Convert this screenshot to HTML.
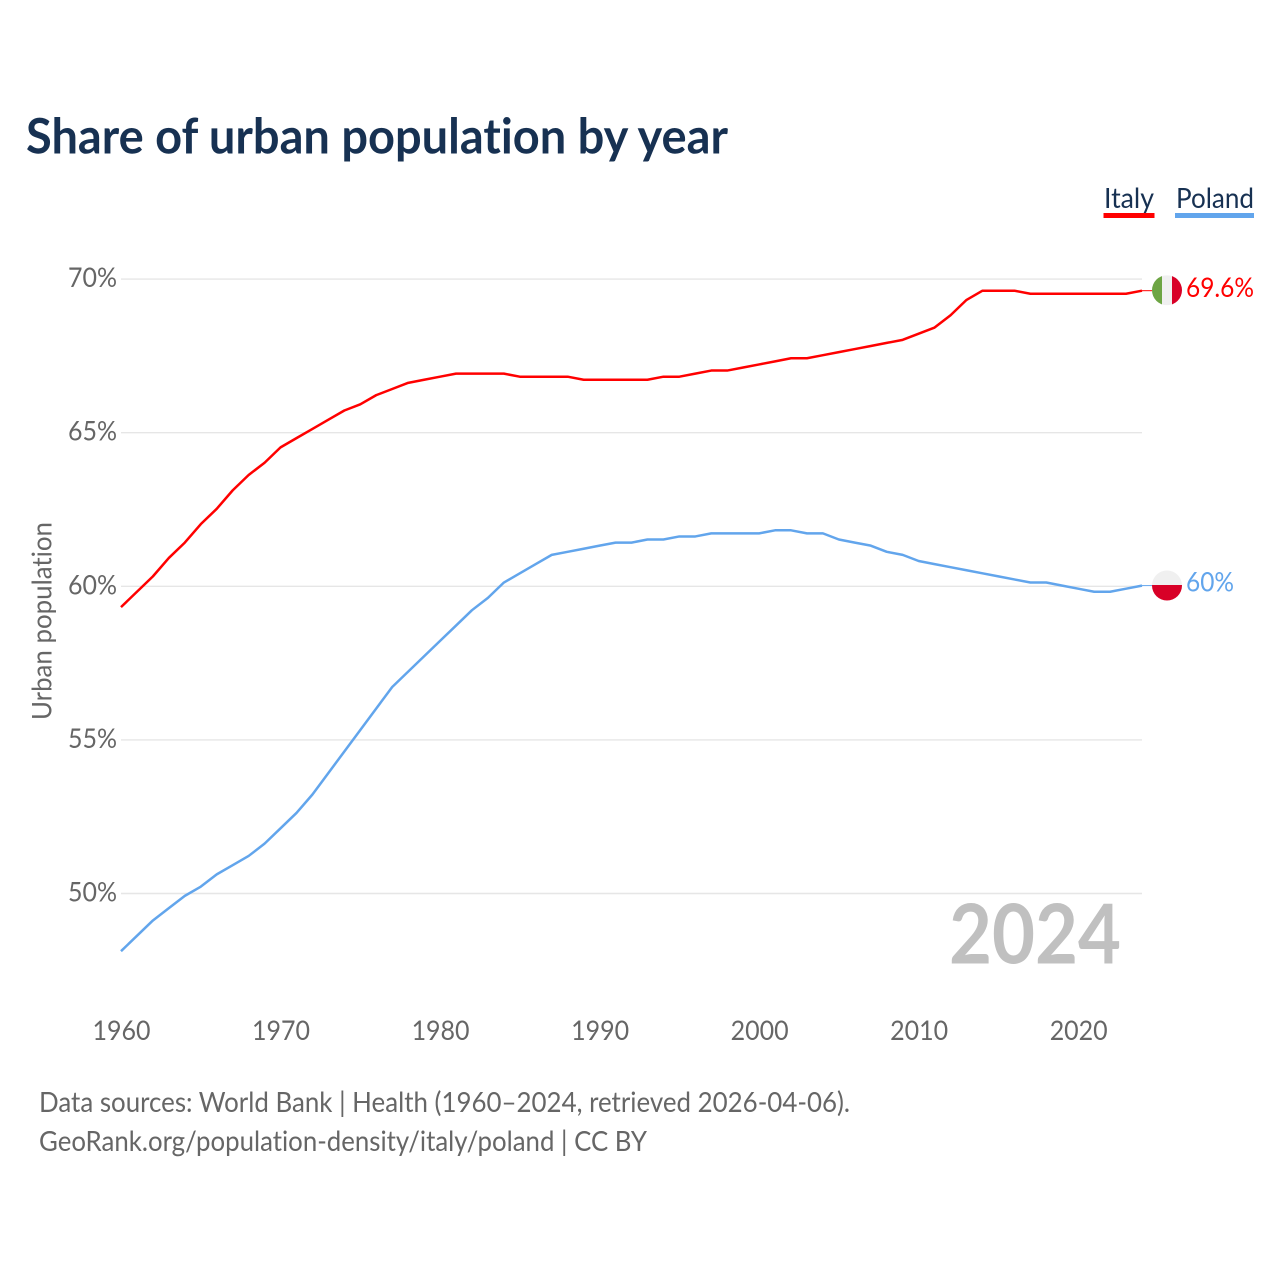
<!DOCTYPE html>
<html lang="en">
<head>
<meta charset="utf-8">
<title>Share of urban population by year</title>
<style>
html,body{margin:0;padding:0;background:#fff;width:1280px;height:1280px;overflow:hidden}
svg{display:block}
text{font-family:"Lato","Carlito","Liberation Sans",sans-serif;font-variant-ligatures:none;font-feature-settings:"liga" 0,"clig" 0}
</style>
</head>
<body>
<svg id="chart" xmlns="http://www.w3.org/2000/svg" width="1280" height="1280" viewBox="0 0 1280 1280">
  <rect x="0" y="0" width="1280" height="1280" fill="#fff"/>
  <text x="26" y="153.5" font-size="48.5" font-weight="700" fill="#173152" textLength="702" lengthAdjust="spacingAndGlyphs">Share of urban population by year</text>

  <g>
    <text x="1104" y="208" font-size="28.5" fill="#173152" textLength="50" lengthAdjust="spacingAndGlyphs">Italy</text>
    <rect x="1103.5" y="213" width="51" height="5" fill="#ff0000"/>
  </g>
  <g>
    <text x="1176" y="208" font-size="28.5" fill="#173152" textLength="78" lengthAdjust="spacingAndGlyphs">Poland</text>
    <rect x="1175" y="213" width="79" height="5" fill="#62a5ec"/>
  </g>

  <g id="grid"></g>
  <g id="yticks"></g>
  <g id="xticks"></g>

  <text transform="translate(51.5,621) rotate(-90)" text-anchor="middle" font-size="27.5" fill="#666" textLength="198" lengthAdjust="spacingAndGlyphs">Urban population</text>

  <text x="949" y="963.5" font-size="82" font-weight="700" fill="#c0c0c0" textLength="172" lengthAdjust="spacingAndGlyphs">2024</text>

  <g id="series"></g>

  <defs>
    <clipPath id="clip-it"><circle id="clip-it-c" r="15" cx="1167" cy="290"/></clipPath>
    <clipPath id="clip-pl"><circle id="clip-pl-c" r="15" cx="1167" cy="585"/></clipPath>
  </defs>
  <g id="flags"></g>

  <text x="39" y="1112" font-size="27.8" fill="#666" textLength="811" lengthAdjust="spacingAndGlyphs">Data sources: World Bank | Health (1960–2024, retrieved 2026-04-06).</text>
  <text x="39" y="1151" font-size="27.8" fill="#666" textLength="608" lengthAdjust="spacingAndGlyphs">GeoRank.org/population-density/italy/poland | CC BY</text>
</svg>
<script>
const years = [1960,1961,1962,1963,1964,1965,1966,1967,1968,1969,1970,1971,1972,1973,1974,1975,1976,1977,1978,1979,1980,1981,1982,1983,1984,1985,1986,1987,1988,1989,1990,1991,1992,1993,1994,1995,1996,1997,1998,1999,2000,2001,2002,2003,2004,2005,2006,2007,2008,2009,2010,2011,2012,2013,2014,2015,2016,2017,2018,2019,2020,2021,2022,2023,2024];
const italyValues = [59.3,59.8,60.3,60.9,61.4,62.0,62.5,63.1,63.6,64.0,64.5,64.8,65.1,65.4,65.7,65.9,66.2,66.4,66.6,66.7,66.8,66.9,66.9,66.9,66.9,66.8,66.8,66.8,66.8,66.7,66.7,66.7,66.7,66.7,66.8,66.8,66.9,67.0,67.0,67.1,67.2,67.3,67.4,67.4,67.5,67.6,67.7,67.8,67.9,68.0,68.2,68.4,68.8,69.3,69.6,69.6,69.6,69.5,69.5,69.5,69.5,69.5,69.5,69.5,69.6];
const polandValues = [48.1,48.6,49.1,49.5,49.9,50.2,50.6,50.9,51.2,51.6,52.1,52.6,53.2,53.9,54.6,55.3,56.0,56.7,57.2,57.7,58.2,58.7,59.2,59.6,60.1,60.4,60.7,61.0,61.1,61.2,61.3,61.4,61.4,61.5,61.5,61.6,61.6,61.7,61.7,61.7,61.7,61.8,61.8,61.7,61.7,61.5,61.4,61.3,61.1,61.0,60.8,60.7,60.6,60.5,60.4,60.3,60.2,60.1,60.1,60.0,59.9,59.8,59.8,59.9,60.0];
const yTicks = [70,65,60,55,50];
const xTicks = [1960,1970,1980,1990,2000,2010,2020];

const NS = 'http://www.w3.org/2000/svg';
const xScale = function (year) { return 121 + (year - 1960) * (1142 - 121) / 64; };
const yScale = function (pct) { return 279.1 + (70 - pct) * (893.5 - 279.1) / 20; };
const lineY = function (pct) { return yScale(pct) - 0.7; };

const grid = document.getElementById('grid');
const yTickGroup = document.getElementById('yticks');
const xTickGroup = document.getElementById('xticks');
const seriesGroup = document.getElementById('series');
const flags = document.getElementById('flags');

yTicks.forEach(function (t) {
  const line = document.createElementNS(NS, 'line');
  
  
  line.setAttribute('x1', xScale(1960));
  line.setAttribute('x2', xScale(2024));
  line.setAttribute('y1', yScale(t));
  line.setAttribute('y2', yScale(t));
  line.setAttribute('stroke', '#e6e6e6');
  line.setAttribute('stroke-width', '1.4');
  grid.appendChild(line);

  const label = document.createElementNS(NS, 'text');
  
  
  label.setAttribute('x', 117);
  label.setAttribute('y', yScale(t) + 8);
  label.setAttribute('text-anchor', 'end');
  label.setAttribute('font-size', '27');
  label.setAttribute('fill', '#666');
  label.setAttribute('textLength', '49');
  label.setAttribute('lengthAdjust', 'spacingAndGlyphs');
  label.textContent = t + '%';
  yTickGroup.appendChild(label);
});

xTicks.forEach(function (t) {
  const label = document.createElementNS(NS, 'text');
  
  
  label.setAttribute('x', xScale(t) + 0.5);
  label.setAttribute('y', 1040);
  label.setAttribute('text-anchor', 'middle');
  label.setAttribute('font-size', '27');
  label.setAttribute('fill', '#666');
  label.setAttribute('textLength', '58');
  label.setAttribute('lengthAdjust', 'spacingAndGlyphs');
  label.textContent = t;
  xTickGroup.appendChild(label);
});

const pathFor = function (values) {
  return values.map(function (v, i) {
    return (i ? 'L' : 'M') + xScale(years[i]).toFixed(2) + ' ' + lineY(v).toFixed(2);
  }).join('');
};

const lastIt = italyValues[italyValues.length - 1];
const lastPl = polandValues[polandValues.length - 1];

const itLine = document.createElementNS(NS, 'path');


itLine.setAttribute('d', pathFor(italyValues));
itLine.setAttribute('fill', 'none');
itLine.setAttribute('stroke', '#ff0000');
itLine.setAttribute('stroke-width', '2.5');
itLine.setAttribute('stroke-linejoin', 'round');
seriesGroup.appendChild(itLine);

const plLine = document.createElementNS(NS, 'path');


plLine.setAttribute('d', pathFor(polandValues));
plLine.setAttribute('fill', 'none');
plLine.setAttribute('stroke', '#62a5ec');
plLine.setAttribute('stroke-width', '2.5');
plLine.setAttribute('stroke-linejoin', 'round');
seriesGroup.appendChild(plLine);

const itConn = document.createElementNS(NS, 'line');


itConn.setAttribute('x1', xScale(2024));
itConn.setAttribute('x2', xScale(2024) + 10);
itConn.setAttribute('y1', lineY(lastIt));
itConn.setAttribute('y2', lineY(lastIt));
itConn.setAttribute('stroke', '#ff0000');
itConn.setAttribute('stroke-width', '1');
seriesGroup.appendChild(itConn);

const plConn = document.createElementNS(NS, 'line');


plConn.setAttribute('x1', xScale(2024));
plConn.setAttribute('x2', xScale(2024) + 10);
plConn.setAttribute('y1', lineY(lastPl));
plConn.setAttribute('y2', lineY(lastPl));
plConn.setAttribute('stroke', '#62a5ec');
plConn.setAttribute('stroke-width', '1');
seriesGroup.appendChild(plConn);

const itCy = lineY(lastIt) - 0.4;
const plCy = lineY(lastPl) - 0.1;
document.getElementById('clip-it-c').setAttribute('cy', itCy);
document.getElementById('clip-pl-c').setAttribute('cy', plCy);

const itFlag = document.createElementNS(NS, 'g');


itFlag.setAttribute('clip-path', 'url(#clip-it)');
[['#6da544', 1152], ['#f0f0f0', 1162], ['#d80027', 1172]].forEach(function (band) {
  const r = document.createElementNS(NS, 'rect');
  
  
  r.setAttribute('x', band[1]);
  r.setAttribute('y', itCy - 15);
  r.setAttribute('width', 10);
  r.setAttribute('height', 30);
  r.setAttribute('fill', band[0]);
  itFlag.appendChild(r);
});
flags.appendChild(itFlag);

const plFlag = document.createElementNS(NS, 'g');


plFlag.setAttribute('clip-path', 'url(#clip-pl)');
[['#f0f0f0', plCy - 15], ['#d80027', plCy - 0.5]].forEach(function (band) {
  const r = document.createElementNS(NS, 'rect');
  
  
  r.setAttribute('x', 1152);
  r.setAttribute('y', band[1]);
  r.setAttribute('width', 30);
  r.setAttribute('height', 17);
  r.setAttribute('fill', band[0]);
  plFlag.appendChild(r);
});
flags.appendChild(plFlag);

const itVal = document.createElementNS(NS, 'text');


itVal.setAttribute('x', 1186);
itVal.setAttribute('y', itCy + 6.7);
itVal.setAttribute('font-size', '27');
itVal.setAttribute('fill', '#ff0000');
itVal.setAttribute('textLength', '68');
itVal.setAttribute('lengthAdjust', 'spacingAndGlyphs');
itVal.textContent = lastIt + '%';
flags.appendChild(itVal);

const plVal = document.createElementNS(NS, 'text');


plVal.setAttribute('x', 1186);
plVal.setAttribute('y', plCy + 6.2);
plVal.setAttribute('font-size', '27');
plVal.setAttribute('fill', '#62a5ec');
plVal.setAttribute('textLength', '48');
plVal.setAttribute('lengthAdjust', 'spacingAndGlyphs');
plVal.textContent = lastPl + '%';
flags.appendChild(plVal);
</script>
</body>
</html>
